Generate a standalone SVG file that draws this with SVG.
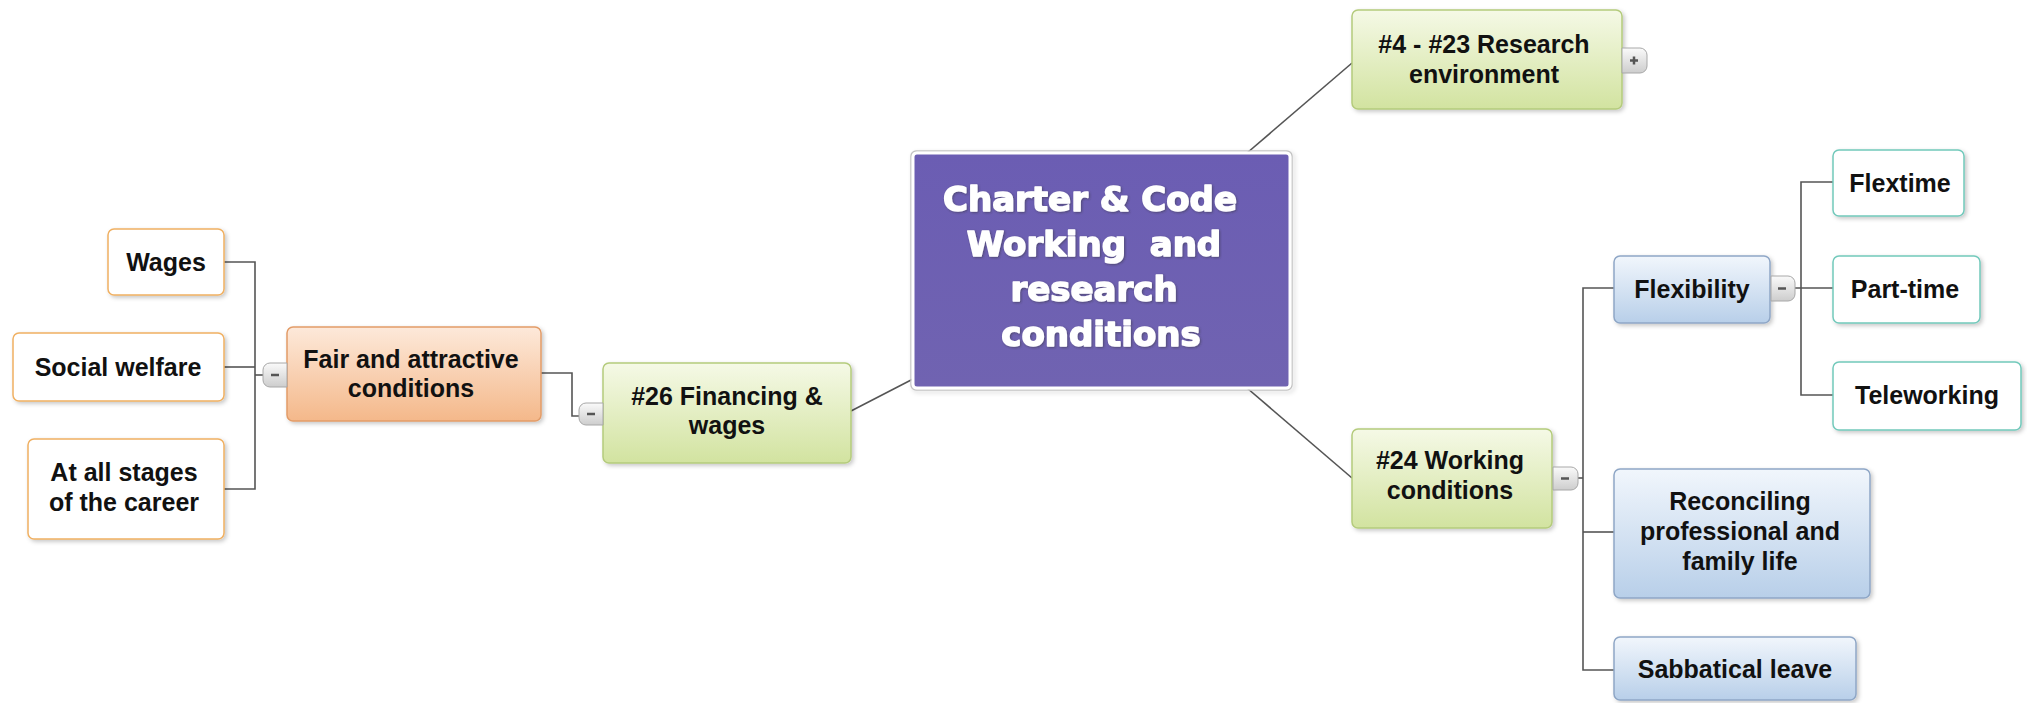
<svg xmlns="http://www.w3.org/2000/svg" width="2027" height="703" viewBox="0 0 2027 703">
<defs>
<linearGradient id="gGreen" x1="0" y1="0" x2="0" y2="1"><stop offset="0" stop-color="#f5f9e6"/><stop offset="1" stop-color="#d2e3a0"/></linearGradient>
<linearGradient id="gOrange" x1="0" y1="0" x2="0" y2="1"><stop offset="0" stop-color="#fde9da"/><stop offset="1" stop-color="#f4b88a"/></linearGradient>
<linearGradient id="gBlue" x1="0" y1="0" x2="0" y2="1"><stop offset="0" stop-color="#f1f6fc"/><stop offset="1" stop-color="#b8cfe9"/></linearGradient>
<linearGradient id="gPurple" x1="0" y1="0" x2="0" y2="1"><stop offset="0" stop-color="#6b5db3"/><stop offset="1" stop-color="#7063b1"/></linearGradient>
<linearGradient id="gBtn" x1="0" y1="0" x2="0" y2="1"><stop offset="0" stop-color="#fafafa"/><stop offset="1" stop-color="#cdcdcd"/></linearGradient>
<filter id="sh" x="-10%" y="-10%" width="130%" height="140%"><feDropShadow dx="2" dy="2" stdDeviation="2" flood-color="#000" flood-opacity="0.22"/></filter>
<filter id="tsh" x="-5%" y="-20%" width="110%" height="140%"><feDropShadow dx="1" dy="1" stdDeviation="0.8" flood-color="#333" flood-opacity="0.5"/></filter>
</defs>
<style>
.t{font-family:"Liberation Sans",Arial,sans-serif;font-weight:bold;font-size:25px;fill:#111;text-anchor:middle}
.c{font-family:"DejaVu Sans","Liberation Sans",sans-serif;font-weight:bold;font-size:34px;fill:#fff;stroke:#fff;stroke-width:1.5;stroke-linejoin:round;text-anchor:middle;white-space:pre}
.green{fill:url(#gGreen);stroke:#b4cb7c;stroke-width:1.5}
.orange{fill:url(#gOrange);stroke:#e29c68;stroke-width:1.5}
.blue{fill:url(#gBlue);stroke:#8ea6c6;stroke-width:1.5}
.wo{fill:#fff;stroke:#f0b062;stroke-width:1.5}
.wt{fill:#fff;stroke:#72c9bb;stroke-width:1.5}
.btn{fill:url(#gBtn);stroke:#a8a8a8;stroke-width:1}
.mk{stroke:#555;stroke-width:2.5}
.ln{fill:none;stroke:#555;stroke-width:1.6}
</style>
<rect width="2027" height="703" fill="#fff"/>

<g id="connectors">
<line class="ln" x1="851" y1="411" x2="913" y2="379"/>
<line class="ln" x1="1247" y1="153" x2="1352" y2="63"/>
<line class="ln" x1="1247" y1="388" x2="1352" y2="478"/>
<polyline class="ln" points="541,373 572,373 572,416 579,416"/>
<polyline class="ln" points="224,262 255,262 255,489 224,489"/>
<line class="ln" x1="224" y1="367" x2="255" y2="367"/>
<line class="ln" x1="255" y1="375" x2="263" y2="375"/>
<line class="ln" x1="1578" y1="478" x2="1583" y2="478"/>
<polyline class="ln" points="1614,288 1583,288 1583,670 1614,670"/>
<line class="ln" x1="1583" y1="532" x2="1614" y2="532"/>
<line class="ln" x1="1795" y1="288" x2="1833" y2="288"/>
<polyline class="ln" points="1833,182 1801,182 1801,395 1833,395"/>
</g>

<g id="central">
<rect x="911" y="151" width="381" height="239" rx="5" fill="none" stroke="#c4c4c4" stroke-width="1.5" filter="url(#sh)"/>
<rect x="913" y="153" width="377" height="235" rx="4" fill="url(#gPurple)" stroke="#fff" stroke-width="3"/>
<g filter="url(#tsh)">
<text class="c" x="1090" y="211">Charter &amp; Code</text>
<text class="c" x="1094" y="256">Working  and</text>
<text class="c" x="1094" y="301">research</text>
<text class="c" x="1101" y="346">conditions</text>
</g>
</g>

<g id="n-research-env">
<rect class="green" x="1352" y="10" width="270" height="99" rx="6" filter="url(#sh)"/>
<text class="t" x="1484" y="53">#4 - #23 Research</text>
<text class="t" x="1484" y="83">environment</text>
<path class="btn" d="M1622,48 h18 a7,7 0 0 1 7,7 v11 a7,7 0 0 1 -7,7 h-18 z"/>
<line class="mk" x1="1630" y1="60.5" x2="1638" y2="60.5" stroke-width="2"/>
<line class="mk" x1="1634" y1="56.5" x2="1634" y2="64.5" stroke-width="2"/>
</g>

<g id="n-financing">
<rect class="green" x="603" y="363" width="248" height="100" rx="6" filter="url(#sh)"/>
<text class="t" x="727" y="405">#26 Financing &amp;</text>
<text class="t" x="727" y="434">wages</text>
<path class="btn" d="M603,403 h-17 a7,7 0 0 0 -7,7 v8 a7,7 0 0 0 7,7 h17 z"/>
<line class="mk" x1="587" y1="414" x2="595" y2="414"/>
</g>

<g id="n-fair">
<rect class="orange" x="287" y="327" width="254" height="94" rx="6" filter="url(#sh)"/>
<text class="t" x="411" y="368">Fair and attractive</text>
<text class="t" x="411" y="397">conditions</text>
<path class="btn" d="M287,363 h-17 a7,7 0 0 0 -7,7 v10 a7,7 0 0 0 7,7 h17 z"/>
<line class="mk" x1="271" y1="375" x2="279" y2="375"/>
</g>

<g id="n-wages">
<rect class="wo" x="108" y="229" width="116" height="66" rx="6" filter="url(#sh)"/>
<text class="t" x="166" y="271">Wages</text>
</g>

<g id="n-social">
<rect class="wo" x="13" y="333" width="211" height="68" rx="6" filter="url(#sh)"/>
<text class="t" x="118" y="376">Social welfare</text>
</g>

<g id="n-stages">
<rect class="wo" x="28" y="439" width="196" height="100" rx="6" filter="url(#sh)"/>
<text class="t" x="124" y="481">At all stages</text>
<text class="t" x="124" y="511">of the career</text>
</g>

<g id="n-working">
<rect class="green" x="1352" y="429" width="200" height="99" rx="6" filter="url(#sh)"/>
<text class="t" x="1450" y="469">#24 Working</text>
<text class="t" x="1450" y="499">conditions</text>
<path class="btn" d="M1553,467 h18 a7,7 0 0 1 7,7 v9 a7,7 0 0 1 -7,7 h-18 z"/>
<line class="mk" x1="1561" y1="478.5" x2="1569" y2="478.5"/>
</g>

<g id="n-flexibility">
<rect class="blue" x="1614" y="256" width="156" height="67" rx="6" filter="url(#sh)"/>
<text class="t" x="1692" y="298">Flexibility</text>
<path class="btn" d="M1771,276 h17 a7,7 0 0 1 7,7 v11 a7,7 0 0 1 -7,7 h-17 z"/>
<line class="mk" x1="1778" y1="288.5" x2="1786" y2="288.5"/>
</g>

<g id="n-flextime">
<rect class="wt" x="1833" y="150" width="131" height="66" rx="6" filter="url(#sh)"/>
<text class="t" x="1900" y="192">Flextime</text>
</g>

<g id="n-parttime">
<rect class="wt" x="1833" y="256" width="147" height="67" rx="6" filter="url(#sh)"/>
<text class="t" x="1905" y="298">Part-time</text>
</g>

<g id="n-teleworking">
<rect class="wt" x="1833" y="362" width="188" height="68" rx="6" filter="url(#sh)"/>
<text class="t" x="1927" y="404">Teleworking</text>
</g>

<g id="n-reconciling">
<rect class="blue" x="1614" y="469" width="256" height="129" rx="6" filter="url(#sh)"/>
<text class="t" x="1740" y="510">Reconciling</text>
<text class="t" x="1740" y="540">professional and</text>
<text class="t" x="1740" y="570">family life</text>
</g>

<g id="n-sabbatical">
<rect class="blue" x="1614" y="637" width="242" height="63" rx="6" filter="url(#sh)"/>
<text class="t" x="1735" y="678">Sabbatical leave</text>
</g>
</svg>
